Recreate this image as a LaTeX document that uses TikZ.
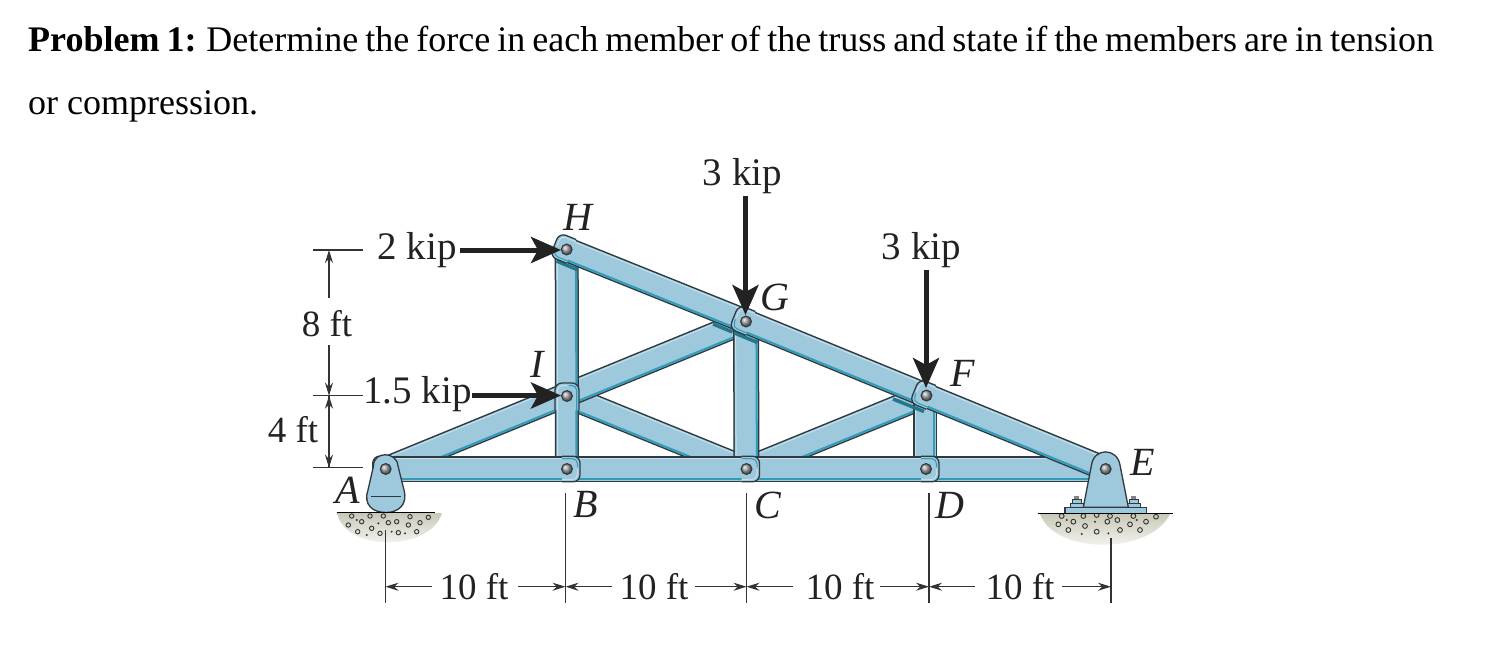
\documentclass[tikz,border=0pt]{standalone}
\usepackage{fontspec}
\setmainfont{Liberation Serif}
\usetikzlibrary{calc,arrows.meta}
\definecolor{steel}{HTML}{9EC8DC}
\definecolor{edgeC}{HTML}{2F3A40}
\definecolor{stripC}{HTML}{2F9DBA}
\definecolor{lightC}{HTML}{C4E0EC}
\definecolor{inkC}{HTML}{222222}
\definecolor{dimC}{HTML}{333333}
\definecolor{groundC}{HTML}{C9C9B8}
\newcommand{\barlink}[3][25]{%
  \draw[edgeC,line width=#1pt] (#2) -- (#3);
  \draw[steel,line width=#1pt-3pt] (#2) -- (#3);
  \draw[stripC,line width=2pt] ($(#2)!#1pt/2-2.6pt!-90:(#3)$) -- ($(#3)!#1pt/2-2.6pt!90:(#2)$);
  \draw[lightC,line width=1pt] ($(#2)!#1pt/2-2.6pt!90:(#3)$) -- ($(#3)!#1pt/2-2.6pt!-90:(#2)$);
}
\newcommand{\gusset}[3][12.8]{%
  \begin{scope}[shift={(#2)},rotate=#3]
    \path[fill=steel,draw=edgeC,line width=1.3pt,rounded corners=7pt] (5,#1) -- (-13,#1) -- (-13,-#1) -- (5,-#1);
    \draw[stripC,line width=1pt,rounded corners=5pt] (5,#1-2.5) -- (-10.5,#1-2.5) -- (-10.5,2);
    \draw[lightC,line width=1pt,rounded corners=5pt] (5,-#1+2.2) -- (-10.5,-#1+2.2) -- (-10.5,0);
  \end{scope}
}
\tikzset{
  x=1pt,y=-1pt,
  title/.style={anchor=base west,inner sep=0pt,text=black,font=\fontsize{36}{37}\selectfont},
  lab/.style={inner sep=0pt,text=inkC,font=\fontsize{39}{39}\selectfont},
  joint/.style={inner sep=0pt,text=inkC,font=\fontsize{40}{40}\selectfont\itshape},
  dimlabel/.style={inner sep=0pt,text=inkC,font=\fontsize{37}{37}\selectfont},
  dimline/.style={dimC,line width=1.2pt},
  dimarrow/.style={dimC,line width=1.2pt,-{Stealth[length=13pt,width=8pt]}},
  load/.style={inkC,line width=5pt,-{Stealth[length=30pt,width=26pt,inset=7pt]}},
  pinball/.style={draw=edgeC,line width=1.1pt,ball color=gray!75},
  gravel/.style={draw=dimC,line width=.9pt},
  seat/.style={fill=steel,draw=edgeC,line width=1.3pt},
  shadowband/.style={stripC!75!black,line width=3.5pt},
}
\begin{document}
\begin{tikzpicture}
\useasboundingbox[fill=white] (0,0) rectangle (1503,657);
% title
\node[title] (t1) at (28,51) {\spaceskip=7pt\textbf{Problem 1:} Determine the force in each member of the truss and state if the members are in tension};
\node[title] (t2) at (28,114) {or compression.};
% joints
\coordinate (A) at (385.7,469);
\coordinate (B) at (567,469);
\coordinate (C) at (746.5,469);
\coordinate (D) at (926,469);
\coordinate (E) at (1105.7,469);
\coordinate (H) at (566.7,249.5);
\coordinate (I) at (567,396);
\coordinate (G) at (746,321.5);
\coordinate (F) at (926.5,395.5);
\coordinate (Dv) at (925,469);
\coordinate (Fv) at (925,395.5);
% ground
\shade[top color=groundC,bottom color=white] (337,513) .. controls (345,552) and (430,552) .. (442,513) -- cycle;
\shade[top color=groundC,bottom color=white] (1040,514) .. controls (1055,555) and (1150,555) .. (1170,514) -- cycle;
\foreach \x/\y in {330/948,305/965,265/975,293/995,335/985,385/968,410/965,445/975,480/968,505/952,415/998,360/1000,470/995,275/948,450/950,370/948}
  \draw[gravel] ({260+\x/3},{200+\y/3}) circle (2.2);
\foreach \x/\y in {320/1005,290/960,355/970,435/1000,395/995}
  \fill[dimC] ({260+\x/3},{200+\y/3}) circle (1.1);
\foreach \x/\y in {125/258,115/283,160/275,195/288,145/300,190/258,230/255,262/275,292/270,330/283,378/275,408/260,340/258,300/300,360/300,230/305,270/258}
  \draw[gravel] ({1020+\x/3},{430+\y/3}) circle (2.4);
\foreach \x/\y in {140/270,225/275,185/312,265/310,350/270}
  \fill[dimC] ({1020+\x/3},{430+\y/3}) circle (1.1);
% diagonals
\barlink{I}{C}
\barlink{C}{F}
\barlink{A}{G}
% verticals
\barlink[24]{B}{H}
\barlink[26]{C}{G}
\barlink[24]{Dv}{Fv}
\begin{scope}[shift={(I)}]
  \path[fill=steel,draw=edgeC,line width=1.3pt,rounded corners=7pt] (-12,14) -- (-12,-13) -- (12,-13) -- (12,14);
  \draw[lightC,line width=1pt,rounded corners=5pt] (-9.5,14) -- (-9.5,-10.5) -- (0,-10.5);
  \draw[stripC,line width=1.2pt,rounded corners=5pt] (9.8,14) -- (9.8,-10.5) -- (2,-10.5);
\end{scope}
% shadow of the top chord on the members below
\coordinate (s1a) at (556.5,261); \coordinate (s1b) at (577,269.5);
\coordinate (s2a) at (713,324);   \coordinate (s2b) at (732.5,332);
\coordinate (s3a) at (734.5,333); \coordinate (s3b) at (757.5,342.5);
\coordinate (s4a) at (893,399);   \coordinate (s4b) at (924,411.5);
\draw[shadowband] (s1a) -- (s1b);
\draw[shadowband] (s2a) -- (s2b);
\draw[shadowband] (s3a) -- (s3b);
\draw[shadowband] (s4a) -- (s4b);
% bottom chord
\barlink[26]{D}{E}
\barlink[26]{C}{D}
\gusset{D}{180}
\barlink[26]{B}{C}
\gusset{C}{180}
\barlink[26]{A}{B}
\gusset{B}{180}
% top chord
\barlink{H}{G}
\gusset{H}{-22.1}
\barlink{G}{F}
\gusset{G}{-22.1}
\barlink{F}{E}
\gusset{F}{-22.1}
% support at A
\gusset{A}{0}
\path[seat] (373.5,466) .. controls (373,451) and (397,451) .. (398,466) -- (404,490) .. controls (408,505) and (398,512.5) .. (386,512.5) .. controls (373,512.5) and (363,505) .. (368,490) -- cycle;
\coordinate (Aba) at (371,496.7); \coordinate (Abb) at (401,496.7);
\draw[edgeC,line width=1pt] (Aba) -- (Abb);
% support at E
\foreach \bx in {1070,1127}{
  \fill[dimC!60] ({\bx+4},496) rectangle ({\bx+9},499);
  \path[fill=steel,draw=edgeC,line width=.8pt] ({\bx+2},499) rectangle ({\bx+11},503);
  \path[fill=steel,draw=edgeC,line width=.8pt] (\bx,503) rectangle ({\bx+13},507.3);
}
\path[seat] (1065,507.3) rectangle (1146.7,513.5);
\path[seat] (1083.3,507.3) -- (1091.5,465) .. controls (1094,447.5) and (1117,447.5) .. (1120,465) -- (1128.3,507.3) -- cycle;
% ground lines
\coordinate (g1a) at (336.7,512.8); \coordinate (g1b) at (435,512.8);
\coordinate (g2a) at (1038,513.5);  \coordinate (g2b) at (1173,513.5);
\draw[black,line width=1.1pt] (g1a) -- (g1b);
\draw[black,line width=1.1pt] (g2a) -- (g2b);
% pins
\foreach \p in {H,I,G,F,B,C,D,E,A}
  \shade[pinball] (\p) circle (5.4);
% loads
\coordinate (l1) at (460,250); \coordinate (l1e) at (561,250);
\coordinate (l2) at (472,395.5); \coordinate (l2e) at (561,395.5);
\coordinate (l3) at (745.5,196); \coordinate (l3e) at (745.5,315);
\coordinate (l4) at (926,270); \coordinate (l4e) at (926,388);
\draw[load] (l1) -- (l1e);
\draw[load] (l2) -- (l2e);
\draw[load] (l3) -- (l3e);
\draw[load] (l4) -- (l4e);
\node[lab] (k1) at (417,250) {2 kip};
\node[lab] (k2) at (417.5,394) {1.5 kip};
\node[lab] (k3) at (742.5,176) {3 kip};
\node[lab] (k4) at (921.5,250) {3 kip};
% joint letters
\node[joint] (nH) at (578,217) {H};
\node[joint] (nI) at (537,364) {I};
\node[joint] (nA) at (348,490) {A};
\node[joint] (nB) at (586,504) {B};
\node[joint] (nC) at (768,505) {C};
\node[joint] (nD) at (950,505) {D};
\node[joint] (nE) at (1143,462) {E};
\node[joint] (nF) at (963,373) {F};
\node[joint] (nG) at (775,297) {G};
% left dimensions
\coordinate (v1a) at (312.7,250);  \coordinate (v1b) at (363,250);
\coordinate (v2a) at (312.7,395.7);\coordinate (v2b) at (363,395.7);
\coordinate (v3a) at (312.7,467.7);\coordinate (v3b) at (363,467.7);
\draw[dimline] (v1a) -- (v1b);
\draw[dimline] (v2a) -- (v2b);
\draw[dimline] (v3a) -- (v3b);
\coordinate (d1) at (329,250); \coordinate (d1s) at (329,298);
\coordinate (d2) at (329,395.7); \coordinate (d2s) at (329,345);
\coordinate (d3) at (329,467.7);
\draw[dimarrow] (d1s) -- (d1);
\draw[dimarrow] (d2s) -- (d2);
\draw[dimarrow] (d3) -- (d2);
\draw[dimarrow] (d2) -- (d3);
\node[dimlabel] (f8) at (327,324) {8 ft};
\node[dimlabel] (f4) at (293,430) {4 ft};
% bottom dimensions
\coordinate (x0a) at (385.5,530); \coordinate (x0b) at (385.5,603);
\coordinate (x1a) at (565.5,493); \coordinate (x1b) at (565.5,603);
\coordinate (x2a) at (746.5,493); \coordinate (x2b) at (746.5,603);
\coordinate (x3a) at (929,493);   \coordinate (x3b) at (929,603);
\coordinate (x4a) at (1111,538);  \coordinate (x4b) at (1111,603);
\foreach \n in {0,1,2,3,4} \draw[dimline] (x\n a) -- (x\n b);
\node[dimlabel] (w1) at (474,587) {10 ft};
\node[dimlabel] (w2) at (654,587) {10 ft};
\node[dimlabel] (w3) at (840,587) {10 ft};
\node[dimlabel] (w4) at (1020,587) {10 ft};
\foreach \l/\r/\i/\o in {385.5/565.5/432/518, 565.5/746.5/612/695, 746.5/929/793/880, 929/1111/975/1062}{
  \draw[dimarrow] (\i,586.7) -- (\l,586.7);
  \draw[dimarrow] (\o,586.7) -- (\r,586.7);
}
\end{tikzpicture}
\end{document}
